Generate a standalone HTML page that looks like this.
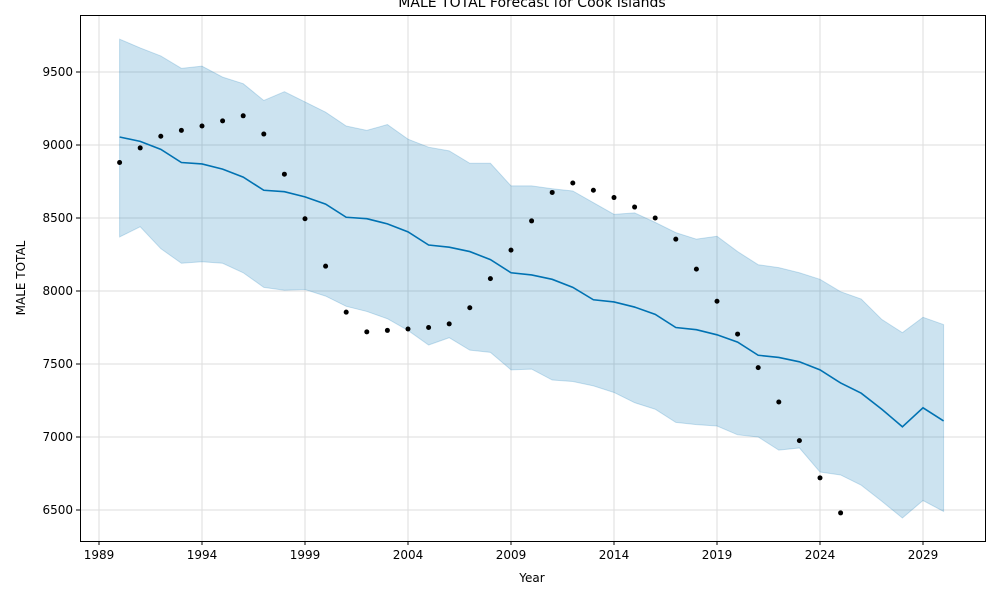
<!DOCTYPE html>
<html><head><meta charset="utf-8"><style>
body{margin:0;background:#fff;font-family:"Liberation Sans",sans-serif}
svg text{font-family:"DejaVu Sans","Liberation Sans",sans-serif;font-size:12px;fill:#000}
</style></head><body>
<svg id="chart" width="1000" height="600">
<text x="532" y="7" text-anchor="middle" style="font-size:14px">MALE TOTAL Forecast for Cook Islands</text>
<g id="grid"></g><g id="band"></g><g id="line"></g><g id="pts"></g><g id="axes"></g>
<rect x="80.5" y="15.5" width="905" height="526" fill="none" stroke="#000" stroke-width="1"/>
<text x="532" y="582" text-anchor="middle">Year</text>
<text x="25" y="278" text-anchor="middle" transform="rotate(-90 25 278)">MALE TOTAL</text>
</svg>
<script>
const actualYears=[1990,1991,1992,1993,1994,1995,1996,1997,1998,1999,2000,2001,2002,2003,2004,2005,2006,2007,2008,2009,2010,2011,2012,2013,2014,2015,2016,2017,2018,2019,2020,2021,2022,2023,2024,2025];
const actual=[8880,8980,9060,9100,9130,9165,9200,9075,8800,8495,8170,7855,7720,7730,7740,7750,7775,7885,8085,8280,8480,8675,8740,8690,8640,8575,8500,8355,8150,7930,7705,7475,7240,6975,6720,6480];
const fcYears=[1990,1991,1992,1993,1994,1995,1996,1997,1998,1999,2000,2001,2002,2003,2004,2005,2006,2007,2008,2009,2010,2011,2012,2013,2014,2015,2016,2017,2018,2019,2020,2021,2022,2023,2024,2025,2026,2027,2028,2029,2030];
const yhat=[9055,9025,8970,8880,8870,8835,8780,8690,8680,8645,8595,8505,8495,8460,8405,8315,8300,8270,8215,8125,8110,8080,8025,7940,7925,7890,7840,7750,7735,7700,7650,7560,7545,7515,7460,7370,7300,7190,7070,7200,7110];
const upper=[9725,9665,9610,9525,9540,9465,9420,9305,9365,9295,9225,9130,9100,9140,9040,8985,8960,8875,8875,8720,8720,8700,8685,8605,8525,8535,8470,8400,8355,8375,8270,8180,8160,8125,8080,7995,7945,7805,7715,7820,7770];
const lower=[8370,8440,8290,8190,8200,8190,8125,8025,8005,8010,7965,7895,7860,7810,7730,7630,7680,7595,7580,7460,7465,7390,7380,7350,7305,7235,7190,7100,7085,7075,7015,7000,6910,6925,6760,6740,6670,6560,6445,6565,6490];
const xTicks=[1989,1994,1999,2004,2009,2014,2019,2024,2029];
const yTicks=[6500,7000,7500,8000,8500,9000,9500];
const X=yr=>99+(yr-1989)*20.6;
const Y=v=>510-(v-6500)*73/500;
const NS="http://www.w3.org/2000/svg";
function mk(t,p,a){const e=document.createElementNS(NS,t);for(const k in a)e.setAttribute(k,a[k]);document.getElementById(p).appendChild(e);return e;}
xTicks.forEach(t=>{
 const g=mk('line','grid',{x1:X(t),x2:X(t),y1:15,y2:541,stroke:'#ddd','stroke-width':1});
 
 
 mk('line','axes',{x1:X(t),x2:X(t),y1:541,y2:545,stroke:'#000'});
 const l=mk('text','axes',{x:X(t),y:559,'text-anchor':'middle'});l.textContent=t;
 
 
});
yTicks.forEach(t=>{
 const g=mk('line','grid',{x1:80,x2:985,y1:Y(t),y2:Y(t),stroke:'#ddd','stroke-width':1});
 
 
 mk('line','axes',{x1:76,x2:80,y1:Y(t),y2:Y(t),stroke:'#000'});
 const l=mk('text','axes',{x:73,y:Y(t)+4,'text-anchor':'end'});l.textContent=t;
 
 
});
let d=fcYears.map((y,i)=>(i?'L':'M')+X(y)+','+Y(upper[i])).join('');
for(let i=fcYears.length-1;i>=0;i--)d+='L'+X(fcYears[i])+','+Y(lower[i]);
const b=mk('path','band',{d:d+'Z',fill:'#0072B2','fill-opacity':0.2,stroke:'#0072B2','stroke-opacity':0.2});


const ln=mk('path','line',{d:fcYears.map((y,i)=>(i?'L':'M')+X(y)+','+Y(yhat[i])).join(''),fill:'none',stroke:'#0072B2','stroke-width':1.6});


actualYears.forEach((y,i)=>{
 const c=mk('circle','pts',{cx:X(y),cy:Y(actual[i]),r:2.5,fill:'#000'});
 
 
});
</script>
</body></html>
